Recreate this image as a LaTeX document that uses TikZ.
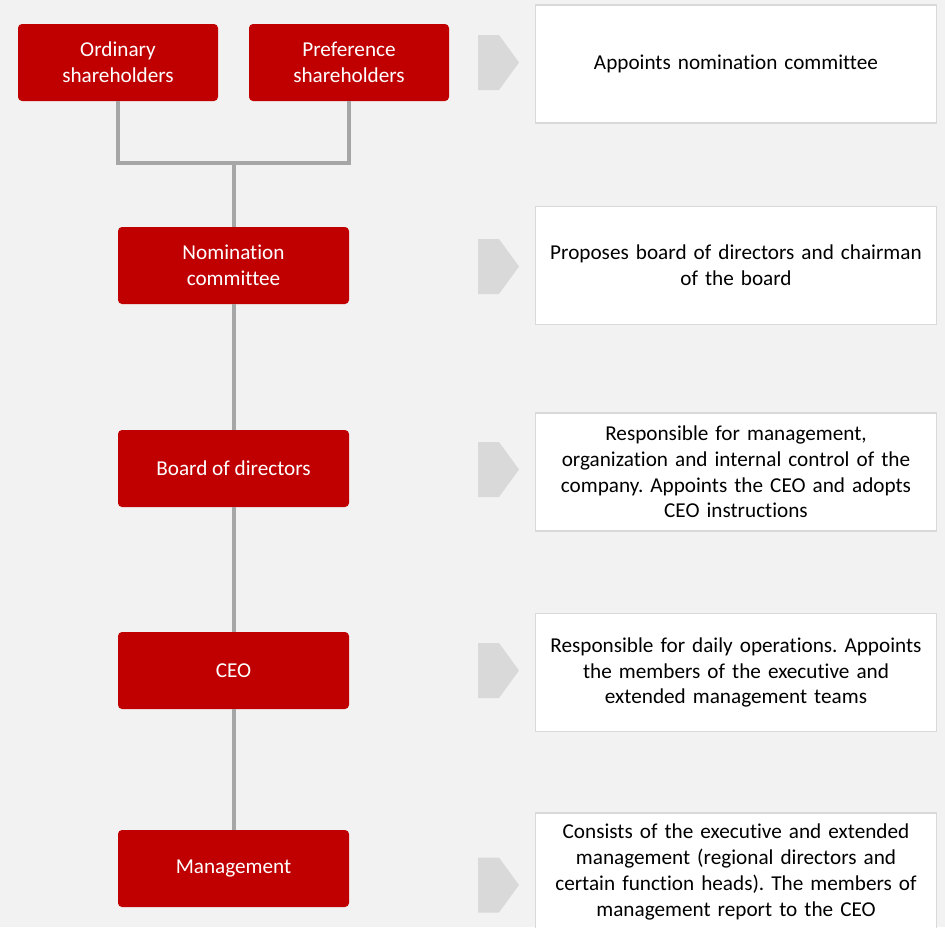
\documentclass[tikz,border=0pt]{standalone}
\usepackage{fontspec}
\setmainfont{Carlito}[Ligatures=NoCommon]
\frenchspacing
\definecolor{bggray}{HTML}{F2F2F2}
\definecolor{boxred}{HTML}{C00000}
\definecolor{linegray}{HTML}{A6A6A6}
\definecolor{chevgray}{HTML}{D9D9D9}
\definecolor{edgegray}{HTML}{D9D9D9}
\tikzset{
  role/.style={fill=boxred, rounded corners=4pt, text=white, align=center,
    minimum height=77pt, inner sep=2pt,
    font=\fontsize{21.2}{25.8}\selectfont},
  desc/.style={fill=white, draw=edgegray, line width=1.2pt, align=center,
    minimum width=401pt, minimum height=118pt, text width=395pt, inner sep=2pt,
    font=\fontsize{21.2}{25.8}\selectfont},
  link/.style={draw=linegray, line width=4pt},
  chev/.pic={\fill[chevgray] (0,-27.5) -- (21,-27.5) -- (41,0) -- (21,27.5) -- (0,27.5) -- cycle;}
}
\begin{document}
\begin{tikzpicture}[x=1pt,y=-1pt]
  \clip (0,0) rectangle (945,927);
  \fill[bggray] (0,0) rectangle (945,927);

  % governing bodies
  \node[role, minimum width=200pt] (ord)  at (118,62.5)   {Ordinary\\shareholders};
  \node[role, minimum width=200pt] (pref) at (349,62.5)   {Preference\\shareholders};
  \node[role, minimum width=231pt] (nom)  at (233.5,265.5) {Nomination\\committee};
  \node[role, minimum width=231pt] (bod)  at (233.5,468.5) {Board of directors};
  \node[role, minimum width=231pt] (ceo)  at (233.5,670.5) {CEO};
  \node[role, minimum width=231pt] (mgmt) at (233.5,868.5) {Management};

  % reporting lines
  \coordinate (join) at (233.5,163);
  \draw[link] (ord.south) |- (join) -| (pref.south);
  \draw[link] (join) -- (nom.north);
  \draw[link] (nom.south) -- (bod.north);
  \draw[link] (bod.south) -- (ceo.north);
  \draw[link] (ceo.south) -- (mgmt.north);

  % chevrons
  \pic at (478,62.5)  {chev};
  \pic at (478,266.5) {chev};
  \pic at (478,469.5) {chev};
  \pic at (478,670.5) {chev};
  \pic at (478,885)   {chev};

  % responsibilities
  \node[desc] (d1) at (736,64)  {Appoints nomination committee};
  \node[desc] (d2) at (736,265.5) {Proposes board of directors and chairman\\of the board};
  \node[desc] (d3) at (736,472) {Responsible for management,\\organization and internal control of the\\company. Appoints the CEO and adopts\\CEO instructions};
  \node[desc] (d4) at (736,672.5) {Responsible for daily operations. Appoints\\the members of the executive and\\extended management teams};
  \node[desc] (d5) at (736,872) {Consists of the executive and extended\\management (regional directors and\\certain function heads). The members of\\management report to the CEO};
\end{tikzpicture}
\end{document}
